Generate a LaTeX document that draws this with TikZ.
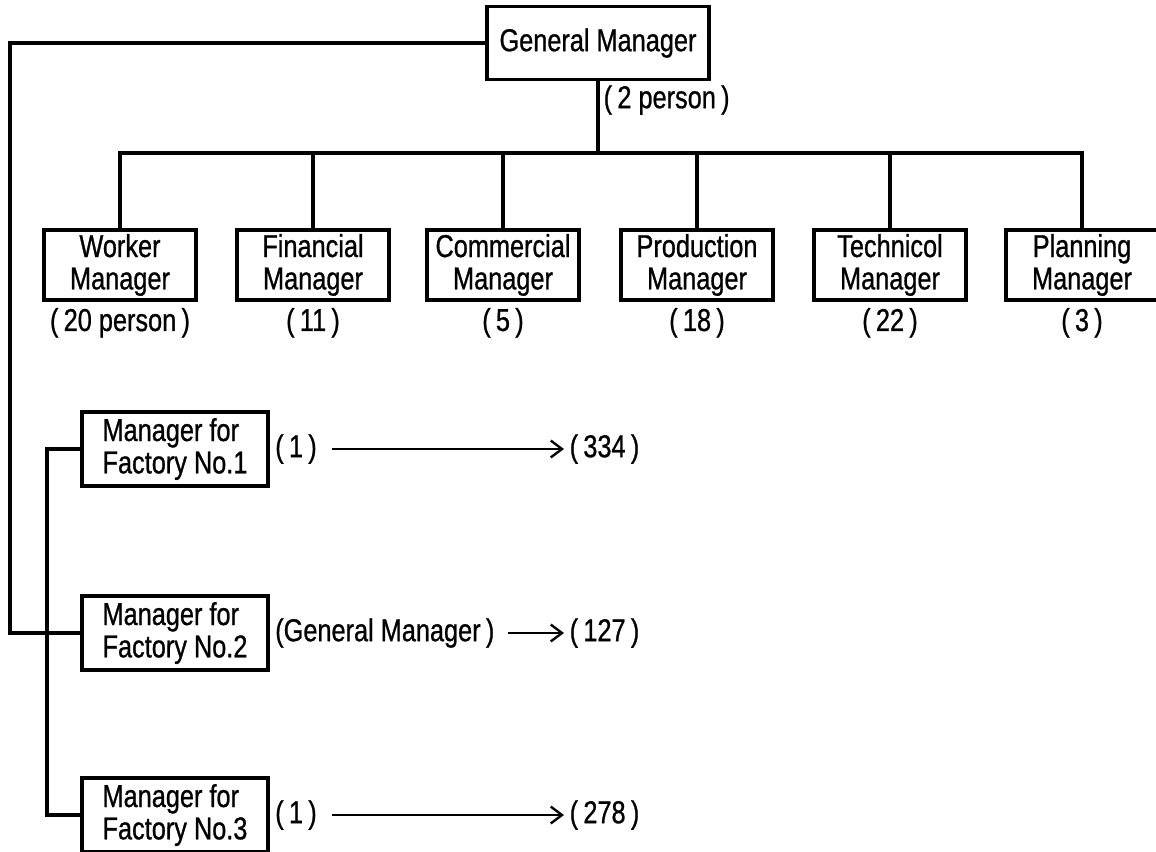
\documentclass[tikz,border=0pt]{standalone}
\usepackage{fontspec}
\setmainfont{Liberation Sans}[FakeStretch=0.8, FakeBold=0.8]
\usetikzlibrary{arrows.meta}

\begin{document}
\begin{tikzpicture}[x=0.025cm, y=-0.025cm,
        every node/.style={font=\fontsize{22.5}{23}\selectfont},
        mgrbox/.style={draw, line width=2.2pt, align=center, inner sep=0pt,
                       minimum width=3.8cm, minimum height=1.75cm},
        factbox/.style={draw, line width=2.2pt, align=left, inner sep=0pt,
                        minimum width=4.65cm, minimum height=1.85cm},
        count/.style={anchor=north, inner sep=1pt, yshift=-0.12cm},
        link/.style={line width=2.2pt},
        flow/.style={line width=1.7pt, -{Straight Barb[length=8pt, width=12pt]}}]
      \useasboundingbox (0,0) rectangle (1156,851);
      % general manager
      \node[mgrbox, minimum width=5.55cm, minimum height=1.83cm] (gm) at (598,43) {General Manager};
      \node[anchor=west, inner sep=1pt] (gmn) at (602,100) {(\,2 person\,)};
      % department managers
      \node[mgrbox] (worker) at (120,265) {Worker\\Manager};
      \node[mgrbox] (fin) at (313,265) {Financial\\Manager};
      \node[mgrbox] (comm) at (503,265) {Commercial\\Manager};
      \node[mgrbox] (prod) at (697,265) {Production\\Manager};
      \node[mgrbox] (tech) at (890,265) {Technicol\\Manager};
      \node[mgrbox] (plan) at (1082,265) {Planning\\Manager};
      \node[count] (workern) at (worker.south) {(\,20 person\,)};
      \node[count] (finn) at (fin.south) {(\,11\,)};
      \node[count] (commn) at (comm.south) {(\,5\,)};
      \node[count] (prodn) at (prod.south) {(\,18\,)};
      \node[count] (techn) at (tech.south) {(\,22\,)};
      \node[count] (plann) at (plan.south) {(\,3\,)};
      % bus from general manager
      \coordinate (bus) at (598,153);
      \draw[link] (gm.south) -- (bus);
      \draw[link] (worker.north) -- (worker.north |- bus) -- (plan.north |- bus) -- (plan.north);
      \draw[link] (fin.north) -- (fin.north |- bus);
      \draw[link] (comm.north) -- (comm.north |- bus);
      \draw[link] (prod.north) -- (prod.north |- bus);
      \draw[link] (tech.north) -- (tech.north |- bus);
      % factory managers
      \node[factbox] (fac1) at (175,449) {Manager for\\Factory No.1};
      \node[factbox] (fac2) at (175,633) {Manager for\\Factory No.2};
      \node[factbox] (fac3) at (175,815) {Manager for\\Factory No.3};
      \coordinate (outer) at (10,0);
      \coordinate (inner) at (47,0);
      \draw[link] (gm.west) -- (outer |- gm.west) -- (outer |- fac2.west) -- (fac2.west);
      \draw[link] (fac1.west) -- (inner |- fac1.west) -- (inner |- fac3.west) -- (fac3.west);
      % staff figures
      \coordinate (nums) at (568,0);
      \node[anchor=west, inner sep=1pt] (fac1a) at ([xshift=0.1cm]fac1.east) {(\,1\,)};
      \node[anchor=west, inner sep=1pt] (fac1b) at (nums |- fac1.east) {(\,334\,)};
      \draw[flow] ([xshift=0.35cm]fac1a.east) -- ([xshift=-0.1cm]fac1b.west);
      \node[anchor=west, inner sep=1pt] (fac2a) at ([xshift=0.1cm]fac2.east) {(General Manager\,)};
      \node[anchor=west, inner sep=1pt] (fac2b) at (nums |- fac2.east) {(\,127\,)};
      \draw[flow] ([xshift=0.3cm]fac2a.east) -- ([xshift=-0.1cm]fac2b.west);
      \node[anchor=west, inner sep=1pt] (fac3a) at ([xshift=0.1cm]fac3.east) {(\,1\,)};
      \node[anchor=west, inner sep=1pt] (fac3b) at (nums |- fac3.east) {(\,278\,)};
      \draw[flow] ([xshift=0.35cm]fac3a.east) -- ([xshift=-0.1cm]fac3b.west);
    \end{tikzpicture}
\end{document}
